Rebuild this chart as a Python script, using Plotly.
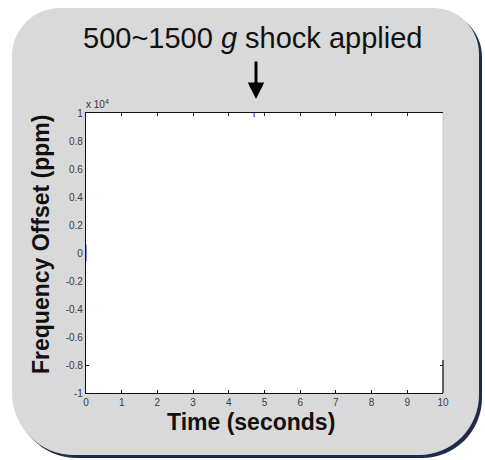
import plotly.graph_objects as go

# ---- data (ppm vs seconds) ----
time_start = [0.0, 0.0]
offset_start = [-600, 600]
time_shock = [4.71, 4.71]
offset_shock = [9700, 10000]

x_ticks = [0, 1, 2, 3, 4, 5, 6, 7, 8, 9, 10]
y_tickvals = [10000, 8000, 6000, 4000, 2000, 0, -2000, -4000, -6000, -8000, -10000]
y_ticktext = ["1", "0.8", "0.6", "0.4", "0.2", "0", "-0.2", "-0.4", "-0.6", "-0.8", "-1"]

W, H = 485, 460
L, R, T, B = 86, 443, 113, 393
pw, ph = R - L, B - T


def px(xp):
    return (xp - L) / pw


def py(yp):
    return (B - yp) / ph


def rrect(x0, y0, x1, y1, rtl, rtr, rbr, rbl):
    k = 0.5523
    def P(x, y):
        return f"{px(x):.5f},{py(y):.5f}"
    s = f"M {P(x0 + rtl, y0)} L {P(x1 - rtr, y0)} "
    s += f"C {P(x1 - rtr + k*rtr, y0)} {P(x1, y0 + rtr - k*rtr)} {P(x1, y0 + rtr)} "
    s += f"L {P(x1, y1 - rbr)} "
    s += f"C {P(x1, y1 - rbr + k*rbr)} {P(x1 - rbr + k*rbr, y1)} {P(x1 - rbr, y1)} "
    s += f"L {P(x0 + rbl, y1)} "
    s += f"C {P(x0 + rbl - k*rbl, y1)} {P(x0, y1 - rbl + k*rbl)} {P(x0, y1 - rbl)} "
    s += f"L {P(x0, y0 + rtl)} "
    s += f"C {P(x0, y0 + rtl - k*rtl)} {P(x0 + rtl - k*rtl, y0)} {P(x0 + rtl, y0)} Z"
    return s


fig = go.Figure()
line_col = "#6b6bff"
fig.add_trace(go.Scatter(x=time_start, y=offset_start, mode="lines",
                         line=dict(color=line_col, width=1.5), showlegend=False))
fig.add_trace(go.Scatter(x=time_shock, y=offset_shock, mode="lines",
                         line=dict(color=line_col, width=1.5), showlegend=False))
# helper trace for y-axis 2 (ticks at -0.8)
fig.add_trace(go.Scatter(x=[None], y=[None], yaxis="y2", showlegend=False))

shapes = [
    dict(type="path", xref="paper", yref="paper", layer="below",
         path=rrect(15, 11, 482, 458, 48, 46, 60, 62),
         fillcolor="#1d2b4c", line=dict(width=0)),
    dict(type="path", xref="paper", yref="paper", layer="below",
         path=rrect(12, 8, 479, 455, 48, 46, 60, 62),
         fillcolor="#d9d9d9", line=dict(width=0)),
    dict(type="rect", xref="paper", yref="paper", layer="below",
         x0=0, x1=1, y0=0, y1=1, fillcolor="white", line=dict(width=0)),
    dict(type="line", xref="paper", yref="paper", x0=1, x1=1, y0=0, y1=1,
         line=dict(color="#c8c8c8", width=1)),
    dict(type="line", xref="paper", yref="paper", x0=1, x1=1, y0=0, y1=py(360),
         line=dict(color="#111111", width=1.2)),
]

font = "Liberation Sans, Arial, sans-serif"
annotations = [
    dict(text="500~1500 <i>g</i> shock applied", xref="paper", yref="paper",
         x=px(252), y=py(38), xanchor="center", yanchor="middle", showarrow=False,
         font=dict(family=font, size=29, color="#111111")),
    dict(text="", xref="paper", yref="paper", x=px(256), y=py(99),
         ax=0, ay=-39, showarrow=True, arrowhead=2, arrowsize=1.1, arrowwidth=3,
         arrowcolor="#000000"),
    dict(text="<b>Frequency Offset (ppm)</b>", xref="paper", yref="paper",
         x=px(41), y=py(245), textangle=-90, xanchor="center", yanchor="middle",
         showarrow=False, font=dict(family=font, size=23, color="#111111")),
    dict(text="<b>Time (seconds)</b>", xref="paper", yref="paper",
         x=px(251), y=py(422), xanchor="center", yanchor="middle",
         showarrow=False, font=dict(family=font, size=23, color="#111111")),
    dict(text="x 10<sup>4</sup>", xref="paper", yref="paper",
         x=px(84), y=py(104), xanchor="left", yanchor="middle",
         showarrow=False, font=dict(family=font, size=10, color="#333333")),
]

fig.update_layout(
    width=W, height=H,
    margin=dict(l=L, r=W - R, t=T, b=H - B, pad=0),
    paper_bgcolor="white", plot_bgcolor="rgba(0,0,0,0)",
    shapes=shapes, annotations=annotations,
    xaxis=dict(range=[0, 10], tickvals=x_ticks, ticks="inside", ticklen=3,
               tickcolor="#111111", showline=True, linecolor="#111111", linewidth=1.2,
               mirror="ticks", showgrid=False, zeroline=False,
               tickfont=dict(family=font, size=10, color="#3a3a4a")),
    yaxis=dict(range=[-10000, 10000], tickvals=y_tickvals, ticktext=y_ticktext,
               ticks="", showline=True, linecolor="#111111", linewidth=1.2,
               showgrid=False, zeroline=False,
               tickfont=dict(family=font, size=10, color="#3a3a4a")),
    yaxis2=dict(range=[-10000, 10000], overlaying="y", side="left",
                tickvals=[-8000], ticks="inside", ticklen=3, tickcolor="#111111",
                mirror="ticks", showline=False, showticklabels=False,
                showgrid=False, zeroline=False),
)

fig.write_html("out.html")
